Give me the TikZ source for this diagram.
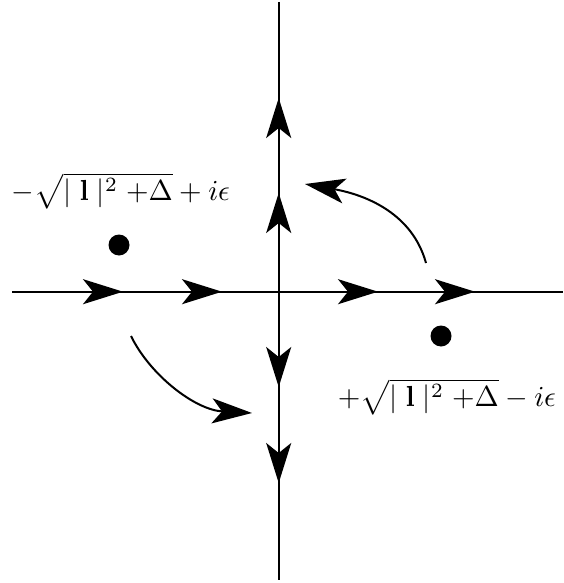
\documentclass[tikz,border=0pt]{standalone}
\usetikzlibrary{arrows.meta}
\begin{document}
\begin{tikzpicture}[x=1pt,y=-1pt,line width=2pt,
  tip/.style={-{Stealth[length=40pt,width=25pt,inset=10pt]}},
  lbl/.style={scale=2.9,inner sep=0pt},
  dot/.style={circle,fill=black,inner sep=0pt,minimum size=21pt}]
\useasboundingbox (0,0) rectangle (563,583);
% axes
\coordinate (L) at (12,291.7);
\coordinate (R) at (563,291.7);
\coordinate (T) at (278.7,2);
\coordinate (B) at (278.7,580);
\draw (L) -- (R);
\draw (T) -- (B);
% arrowheads on horizontal axis
\coordinate (h1a) at (80,291.7);  \coordinate (h1b) at (123,291.7);
\coordinate (h2a) at (180,291.7); \coordinate (h2b) at (222,291.7);
\coordinate (h3a) at (336,291.7); \coordinate (h3b) at (378,291.7);
\coordinate (h4a) at (433,291.7); \coordinate (h4b) at (475,291.7);
\draw[tip] (h1a) -- (h1b);
\draw[tip] (h2a) -- (h2b);
\draw[tip] (h3a) -- (h3b);
\draw[tip] (h4a) -- (h4b);
% arrowheads on vertical axis
\coordinate (v1a) at (278.7,140); \coordinate (v1b) at (278.7,98);
\coordinate (v2a) at (278.7,235); \coordinate (v2b) at (278.7,193);
\coordinate (v3a) at (278.7,345); \coordinate (v3b) at (278.7,387);
\coordinate (v4a) at (278.7,441); \coordinate (v4b) at (278.7,483);
\draw[tip] (v1a) -- (v1b);
\draw[tip] (v2a) -- (v2b);
\draw[tip] (v3a) -- (v3b);
\draw[tip] (v4a) -- (v4b);
% poles
\node[dot] (p1) at (119,245) {};
\node[dot] (p2) at (441,336) {};
% labels
\node[lbl] (l1) at (121,191) {$-\sqrt{\mid \mathbf{l} \mid^2 +\Delta} + i\epsilon$};
\node[lbl] (l2) at (447,397) {$+\sqrt{\mid \mathbf{l} \mid^2 +\Delta} - i\epsilon$};
% rotation arrows
\coordinate (c1s) at (131,336);
\coordinate (c1e) at (252,413);
\draw[tip] (c1s) .. controls (150,375) and (195,410) .. (c1e);
\coordinate (c2s) at (426,263);
\coordinate (c2e) at (305,184);
\draw[tip] (c2s) .. controls (410,205) and (350,192) .. (c2e);
\end{tikzpicture}
\end{document}
